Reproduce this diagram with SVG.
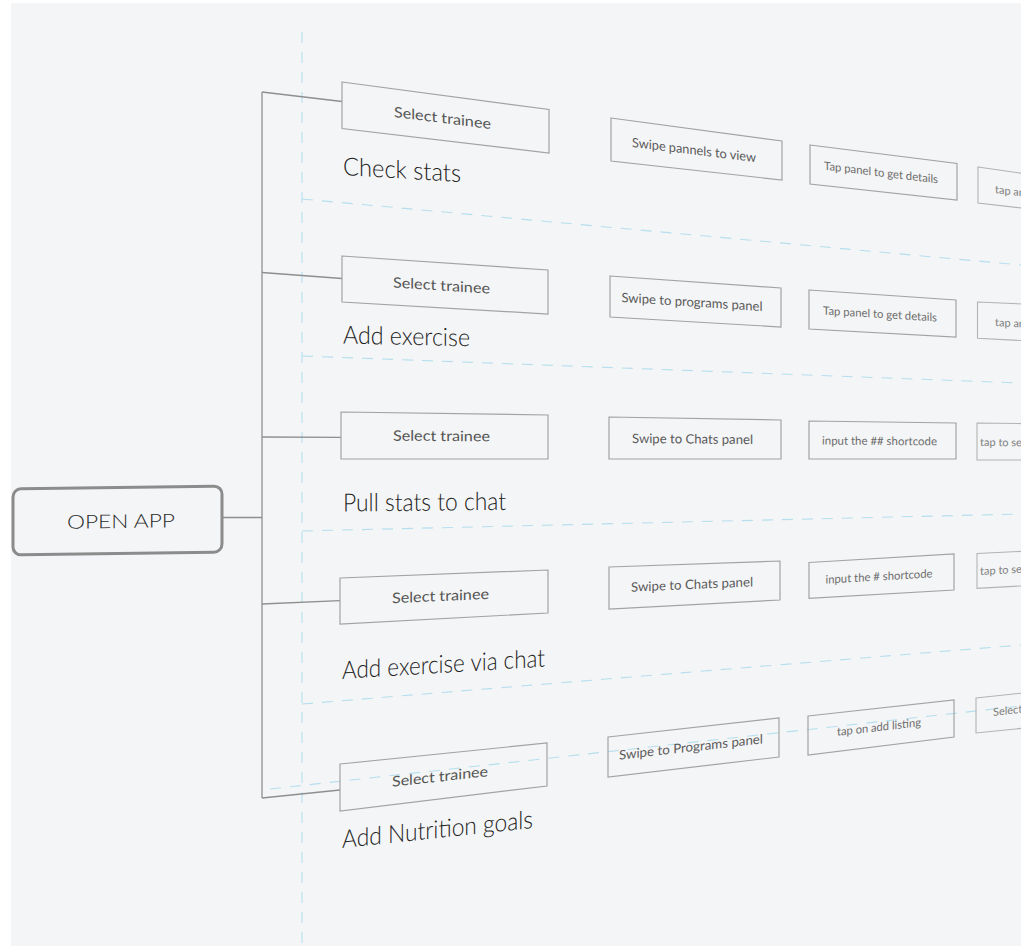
<svg xmlns="http://www.w3.org/2000/svg" width="1024" height="949" viewBox="0 0 1024 949">
<style>
.box{fill:none;stroke:#a3a3a3;stroke-width:1.2}
.box2{fill:none;stroke:#b3b3b3;stroke-width:1.1}
.conn{fill:none;stroke:#8f8f8f;stroke-width:1.3}
.guide{fill:none;stroke:#b5dfee;stroke-width:1.1;stroke-dasharray:11 9}
.t1{font-family:Lato,"Noto Sans","Liberation Sans",sans-serif;font-size:14.5px;fill:#555;text-anchor:middle}
.t2{font-family:Lato,"Noto Sans","Liberation Sans",sans-serif;font-size:13px;fill:#5a5a5a;text-anchor:middle}
.t3{font-family:Lato,"Noto Sans","Liberation Sans",sans-serif;font-size:11.5px;fill:#6c6c6c;text-anchor:middle}
.t4{font-family:Lato,"Noto Sans","Liberation Sans",sans-serif;font-size:11px;fill:#808080}
.title{font-family:Lato,"Noto Sans","Liberation Sans",sans-serif;font-size:25px;font-weight:300;fill:#222}
.root{font-family:Lato,"Noto Sans","Liberation Sans",sans-serif;font-size:19px;font-weight:300;fill:#2a2a2a;text-anchor:middle}
</style>
<rect x="0" y="0" width="1024" height="949" fill="#ffffff"/>
<rect x="11" y="3" width="1010" height="943" fill="#f4f5f6"/>

<g id="guides">
<line class="guide" x1="302" y1="32" x2="302" y2="946"/>
<line class="guide" x1="302" y1="199" x2="1021" y2="265"/>
<line class="guide" x1="302" y1="356" x2="1021" y2="383"/>
<line class="guide" x1="302" y1="531" x2="1021" y2="514"/>
<line class="guide" x1="302" y1="704" x2="1021" y2="645"/>
<line class="guide" x1="270" y1="789" x2="1021" y2="706"/>
</g>

<g id="connectors">
<line class="conn" x1="222" y1="517.5" x2="262" y2="517.5"/>
<line class="conn" x1="262" y1="92" x2="262" y2="798"/>
<line class="conn" x1="262" y1="92" x2="342" y2="101.5"/>
<line class="conn" x1="262" y1="272.5" x2="342" y2="278.5"/>
<line class="conn" x1="262" y1="437" x2="341" y2="437.3"/>
<line class="conn" x1="262" y1="604" x2="340" y2="600.7"/>
<line class="conn" x1="262" y1="798" x2="340" y2="790"/>
</g>

<g id="open-app">
<rect x="13" y="487.5" width="209" height="66" rx="8" fill="none" stroke="#8c8c8c" stroke-width="3" transform="translate(117.5,520.5) skewY(-0.8) translate(-117.5,-520.5)"/>
<text class="root" transform="translate(121,528) skewY(-0.8)" textLength="108" lengthAdjust="spacingAndGlyphs">OPEN APP</text>
</g>

<!-- Row 1 -->
<g id="check-stats">
<text class="title" transform="translate(343,175) skewY(3.4)" textLength="118" lengthAdjust="spacingAndGlyphs">Check stats</text>
</g>
<g id="r1-select">
<polygon class="box" points="342,82 549,109.5 549,153 342,128.5"/>
<text class="t1" transform="translate(442.5,123) skewY(7.1)" textLength="97" lengthAdjust="spacingAndGlyphs">Select trainee</text>
</g>
<g id="r1-swipe">
<polygon class="box" points="611,118 782,141 782,180 611,161"/>
<text class="t2" transform="translate(694,154.5) skewY(7)" textLength="124" lengthAdjust="spacingAndGlyphs">Swipe pannels to view</text>
</g>
<g id="r1-tap">
<polygon class="box" points="810,145 957,163.5 957,200 810,184"/>
<text class="t3" transform="translate(881,176.5) skewY(6.8)" textLength="114" lengthAdjust="spacingAndGlyphs">Tap panel to get details</text>
</g>
<g id="r1-next">
<polygon class="box2" points="978,167 1030,174.5 1030,209 978,203"/>
<text class="t4" transform="translate(995,193) skewY(7)">tap an</text>
</g>

<!-- Row 2 -->
<g id="add-exercise">
<text class="title" transform="translate(343,343.5) skewY(1.3)" textLength="127" lengthAdjust="spacingAndGlyphs">Add exercise</text>
</g>
<g id="r2-select">
<polygon class="box" points="342,256 548,270 548,314 342,302"/>
<text class="t1" transform="translate(441.5,290.5) skewY(3.6)" textLength="97" lengthAdjust="spacingAndGlyphs">Select trainee</text>
</g>
<g id="r2-swipe">
<polygon class="box" points="610,276 781,288 781,327 610,317"/>
<text class="t2" transform="translate(692,306.5) skewY(3.7)" textLength="141" lengthAdjust="spacingAndGlyphs">Swipe to programs panel</text>
</g>
<g id="r2-tap">
<polygon class="box" points="809,290 956,300 956,337 809,329"/>
<text class="t3" transform="translate(880,318) skewY(3.5)" textLength="114" lengthAdjust="spacingAndGlyphs">Tap panel to get details</text>
</g>
<g id="r2-next">
<polygon class="box2" points="977.5,302 1030,304.3 1030,341 977.5,338.3"/>
<text class="t4" transform="translate(995,326) skewY(2.8)">tap an</text>
</g>

<!-- Row 3 -->
<g id="pull-stats">
<text class="title" transform="translate(343,511.5) skewY(-0.6)" textLength="163" lengthAdjust="spacingAndGlyphs">Pull stats to chat</text>
</g>
<g id="r3-select">
<polygon class="box" points="341,412 548,415 548,459 341,459"/>
<text class="t1" transform="translate(441.5,441) skewY(0.4)" textLength="97" lengthAdjust="spacingAndGlyphs">Select trainee</text>
</g>
<g id="r3-swipe">
<polygon class="box" points="609,417 781,420 781,459 609,459"/>
<text class="t2" transform="translate(692.5,443.5) skewY(0.5)" textLength="121" lengthAdjust="spacingAndGlyphs">Swipe to Chats panel</text>
</g>
<g id="r3-input">
<polygon class="box" points="809,421 956,423 956,459 809,459"/>
<text class="t3" transform="translate(879.5,445) skewY(0.4)" textLength="115" lengthAdjust="spacingAndGlyphs">input the ## shortcode</text>
</g>
<g id="r3-next">
<polygon class="box2" points="977,423 1030,423.7 1030,460 977,460"/>
<text class="t4" transform="translate(980,446) skewY(0.5)">tap to sel</text>
</g>

<!-- Row 4 -->
<g id="add-exercise-chat">
<text class="title" transform="translate(342,679) skewY(-3.5)" textLength="203" lengthAdjust="spacingAndGlyphs">Add exercise via chat</text>
</g>
<g id="r4-select">
<polygon class="box" points="340,578 548,570 548,613 340,624"/>
<text class="t1" transform="translate(440.5,601) skewY(-2.6)" textLength="97" lengthAdjust="spacingAndGlyphs">Select trainee</text>
</g>
<g id="r4-swipe">
<polygon class="box" points="609,567 780,561 780,600 609,609"/>
<text class="t2" transform="translate(692,589) skewY(-2.5)" textLength="122" lengthAdjust="spacingAndGlyphs">Swipe to Chats panel</text>
</g>
<g id="r4-input">
<polygon class="box" points="809,562.5 954,554 954,590 809,598.3"/>
<text class="t3" transform="translate(879,580.5) skewY(-3.3)" textLength="107" lengthAdjust="spacingAndGlyphs">input the # shortcode</text>
</g>
<g id="r4-next">
<polygon class="box2" points="977,553.5 1030,551 1030,585.5 977,588.3"/>
<text class="t4" transform="translate(980,575) skewY(-3)">tap to sel</text>
</g>

<!-- Row 5 -->
<g id="add-nutrition">
<text class="title" transform="translate(342,848) skewY(-6)" textLength="191" lengthAdjust="spacingAndGlyphs">Add Nutrition goals</text>
</g>
<g id="r5-select">
<polygon class="box" points="340,764 547,743 547,786 340,811"/>
<text class="t1" transform="translate(440,781.5) skewY(-6.3)" textLength="96" lengthAdjust="spacingAndGlyphs">Select trainee</text>
</g>
<g id="r5-swipe">
<polygon class="box" points="608,737 779,718 779,757 608,777"/>
<text class="t2" transform="translate(691,751.5) skewY(-6.5)" textLength="144" lengthAdjust="spacingAndGlyphs">Swipe to Programs panel</text>
</g>
<g id="r5-tap">
<polygon class="box" points="808,716 954,700 954,737 808,755"/>
<text class="t3" transform="translate(879,731) skewY(-6.6)" textLength="84" lengthAdjust="spacingAndGlyphs">tap on add listing</text>
</g>
<g id="r5-next">
<polygon class="box2" points="976,698 1030,692.3 1030,727.5 976,733"/>
<text class="t4" transform="translate(993,716) skewY(-6.5)">Select</text>
</g>

<rect x="1021" y="0" width="3" height="949" fill="#ffffff"/>
</svg>
